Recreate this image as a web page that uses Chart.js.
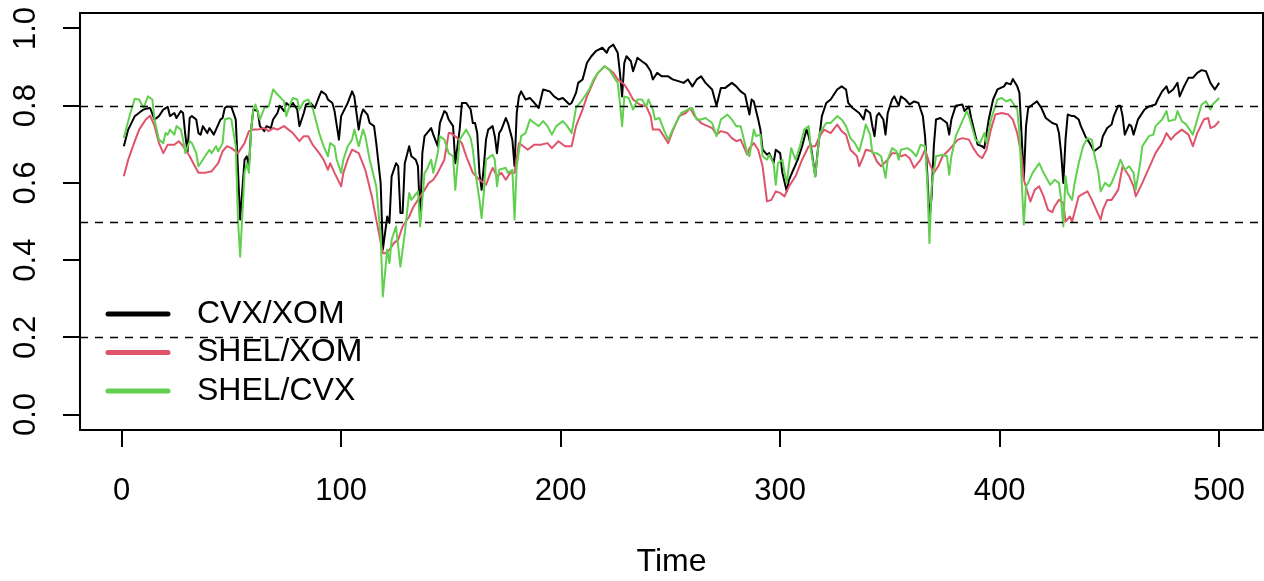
<!doctype html>
<html lang="en">
<head>
<meta charset="utf-8">
<title>Rolling correlations</title>
<script src="https://cdn.jsdelivr.net/npm/chart.js"></script>
<style>
  html, body { margin: 0; padding: 0; background: #fff; }
  canvas { display: block; }
</style>
</head>
<body>
<canvas id="corrChart" width="1264" height="581"></canvas>
<script>
// axis ticks and reference levels
var xTicks = [0, 100, 200, 300, 400, 500];
var yTicks = [0, 0.2, 0.4, 0.6, 0.8, 1.0];
var refLevels = [0.2, 0.5, 0.8];
var seriesNames = ["CVX/XOM", "SHEL/XOM", "SHEL/CVX"];
var seriesColors = ["#000000", "#DF536B", "#61D04F"];

// [time, correlation]
var cvxXom = [
  [1,.695],[3,.738],[6,.773],[7,.777],[9,.786],[10,.790],[11,.792],[13,.794],[15,.764],[17,.773],[19,.790],[21,.797],[22,.773],[24,.781],[25,.768],[27,.786],[28,.781],[29,.725],[30,.680],[31,.768],[32,.773],[34,.764],[35,.729],[36,.725],[37,.747],[39,.729],[40,.742],[42,.725],[43,.738],[45,.764],[46,.768],[47,.794],[48,.798],[50,.797],
  [52,.764],[53,.634],[54,.505],[56,.660],[57,.669],[58,.643],[59,.738],[60,.790],[62,.786],[63,.747],[65,.734],[66,.747],[68,.742],[69,.764],[71,.781],[72,.800],[74,.786],[75,.807],[77,.798],[78,.807],[80,.790],[81,.747],[83,.781],[84,.803],[86,.807],[88,.794],[90,.824],[91,.837],[93,.829],[94,.816],[96,.807],[97,.786],[99,.712],[100,.773],[103,.807],[105,.837],
  [106,.824],[108,.738],[109,.773],[110,.790],[112,.777],[113,.755],[115,.747],[116,.703],[118,.600],[119,.427],[120,.470],[121,.513],[122,.496],[123,.617],[125,.651],[126,.643],[127,.522],[128,.522],[129,.651],[131,.695],[132,.669],[134,.660],[135,.643],[136,.505],[137,.677],[138,.721],[141,.742],[142,.725],[144,.695],[145,.755],[147,.786],[148,.781],[149,.764],[151,.747],[152,.651],[154,.738],[155,.807],[157,.807],[159,.790],
  [160,.755],[161,.755],[162,.729],[163,.626],[164,.582],[165,.643],[166,.712],[167,.738],[169,.747],[170,.721],[171,.677],[172,.729],[173,.738],[175,.768],[176,.755],[178,.712],[179,.643],[180,.781],[181,.824],[182,.837],[184,.816],[186,.820],[188,.807],[190,.794],[192,.842],[195,.837],[197,.824],[199,.816],[201,.820],[204,.803],[205,.807],[207,.833],[208,.859],[210,.868],[212,.911],[214,.928],
  [216,.941],[219,.950],[221,.937],[222,.950],[224,.958],[226,.937],[227,.885],[228,.824],[229,.911],[230,.928],[232,.915],[233,.889],[235,.924],[237,.915],[239,.907],[241,.889],[242,.868],[244,.885],[246,.876],[249,.876],[251,.868],[254,.863],[256,.859],[258,.868],[260,.850],[262,.868],[264,.876],[266,.859],[269,.842],
  [271,.800],[273,.846],[275,.846],[278,.859],[280,.850],[282,.837],[284,.829],[286,.777],[287,.816],[288,.811],[290,.764],[291,.738],[292,.686],[294,.673],[295,.677],[297,.651],[298,.686],[300,.677],[301,.626],[303,.578],[304,.608],[306,.634],[308,.660],[310,.695],[312,.738],[313,.721],[314,.695],[316,.617],[317,.677],[319,.773],[321,.807],[323,.816],
  [326,.842],[328,.850],[330,.842],[331,.807],[333,.794],[336,.781],[338,.764],[339,.790],[341,.781],[342,.747],[343,.721],[344,.773],[345,.781],[347,.764],[348,.725],[349,.781],[351,.816],[352,.824],[354,.800],[355,.824],[357,.816],[359,.803],[361,.811],[363,.807],[365,.773],[366,.721],[367,.626],[368,.505],[369,.565],[370,.695],[371,.764],[373,.768],[376,.755],[377,.725],[378,.764],
  [380,.800],[383,.803],[384,.786],[386,.798],[387,.768],[389,.721],[390,.699],[392,.695],[393,.690],[395,.764],[397,.816],[399,.842],[402,.850],[403,.859],[405,.855],[406,.869],[408,.850],[409,.833],[410,.721],[411,.608],[412,.747],[413,.794],[415,.803],[417,.811],[419,.794],[421,.768],[424,.755],[426,.751],[427,.729],[428,.677],[429,.600],[430,.712],[431,.777],
  [433,.773],[434,.773],[436,.764],[437,.747],[439,.721],[441,.703],[443,.682],[446,.695],[447,.721],[449,.742],[451,.751],[452,.773],[454,.800],[455,.800],[456,.773],[457,.725],[459,.751],[460,.747],[461,.725],[463,.764],[464,.773],[466,.790],[468,.798],[471,.803],[472,.816],[474,.837],[476,.850],[477,.833],[479,.842],[481,.859],[482,.824],[484,.850],[486,.872],[488,.872],[490,.885],[492,.892],[494,.889],[496,.859],[498,.842],[500,.859]
];

var shelXom = [
  [1,.617],[3,.660],[6,.708],[8,.738],[11,.764],[13,.774],[15,.747],[17,.703],[19,.677],[21,.699],[24,.699],[26,.708],[28,.695],[31,.669],[33,.647],[35,.626],[38,.626],[41,.630],[44,.651],[46,.682],[48,.695],[50,.690],
  [53,.677],[56,.703],[58,.734],[60,.738],[62,.738],[65,.742],[67,.734],[69,.742],[71,.738],[74,.747],[76,.738],[78,.729],[81,.708],[83,.721],[85,.721],[87,.699],[90,.677],[92,.660],[94,.634],[95,.651],[97,.626],[100,.591],[101,.626],[103,.660],[105,.686],
  [108,.677],[111,.634],[114,.565],[116,.505],[119,.418],[120,.418],[122,.427],[124,.444],[126,.453],[128,.487],[131,.513],[133,.539],[135,.556],[138,.582],[140,.600],[142,.608],[144,.626],[147,.660],[149,.729],[150,.729],[153,.716],[155,.703],[157,.669],[160,.626],
  [163,.608],[166,.595],[168,.626],[169,.639],[171,.617],[173,.626],[175,.608],[177,.626],[179,.626],[181,.703],[183,.695],[185,.686],[188,.699],[191,.699],[194,.703],[196,.690],[199,.708],[202,.695],[205,.695],[207,.747],[210,.790],[212,.824],[215,.863],
  [217,.885],[220,.902],[222,.894],[224,.885],[226,.868],[229,.855],[231,.837],[233,.816],[236,.803],[239,.798],[241,.773],[242,.738],[245,.738],[247,.721],[249,.703],[251,.734],[254,.773],[257,.781],[259,.794],[261,.773],[264,.755],[267,.747],[269,.742],
  [271,.725],[273,.734],[276,.729],[278,.716],[280,.708],[282,.712],[285,.673],[286,.690],[288,.703],[290,.686],[292,.643],[294,.552],[296,.556],[298,.578],[300,.574],[302,.565],[304,.591],[307,.617],[310,.660],[313,.695],[316,.695],[318,.721],[320,.738],[323,.729],
  [326,.751],[328,.734],[330,.725],[332,.686],[335,.669],[336,.643],[338,.669],[339,.686],[342,.682],[344,.656],[346,.643],[349,.660],[351,.677],[353,.677],[355,.669],[357,.673],[359,.664],[361,.639],[364,.660],[366,.686],[368,.651],[370,.626],[372,.643],[374,.669],[377,.686],
  [381,.712],[383,.716],[386,.712],[388,.690],[390,.673],[392,.664],[394,.686],[396,.738],[398,.777],[401,.781],[404,.777],[406,.764],[408,.729],[410,.669],[411,.608],[414,.552],[416,.582],[418,.591],[420,.565],[422,.530],[424,.524],[425,.539],[427,.556],[429,.548],[430,.500],[432,.513],[433,.500],
  [434,.522],[436,.565],[440,.578],[442,.556],[444,.530],[446,.505],[447,.530],[449,.556],[451,.556],[454,.582],[456,.643],[459,.617],[461,.591],[462,.565],[465,.600],[467,.626],[469,.651],[471,.677],[474,.703],[476,.729],[478,.712],[480,.725],[483,.738],[486,.725],[488,.695],[490,.729],[493,.764],[495,.768],[496,.742],[498,.747],[500,.760]
];

var shelCvx = [
  [1,.716],[2,.738],[4,.781],[6,.818],[8,.816],[10,.794],[12,.824],[14,.816],[15,.764],[17,.712],[19,.703],[20,.729],[21,.725],[22,.738],[24,.725],[25,.747],[27,.738],[28,.712],[29,.677],[31,.708],[32,.703],[34,.677],[35,.643],[37,.660],[38,.669],[40,.686],[41,.677],[43,.695],[44,.682],[46,.703],[47,.764],[49,.768],[50,.764],[52,.695],[53,.505],[54,.409],
  [56,.626],[57,.651],[58,.626],[59,.738],[60,.790],[61,.803],[63,.764],[65,.794],[67,.798],[69,.842],[71,.829],[74,.811],[75,.773],[77,.807],[78,.820],[80,.816],[81,.790],[83,.811],[85,.816],[87,.794],[90,.729],[92,.695],[94,.669],[95,.703],[97,.695],[98,.660],[100,.626],[101,.660],[103,.695],[105,.712],
  [106,.738],[108,.695],[110,.738],[111,.721],[113,.660],[116,.591],[118,.461],[119,.306],[121,.427],[122,.392],[123,.453],[125,.487],[126,.435],[127,.383],[129,.470],[131,.574],[132,.556],[135,.578],[136,.487],[138,.626],[139,.634],[141,.660],[142,.626],[144,.677],[145,.721],[147,.712],[149,.677],[151,.669],[152,.582],[154,.712],[157,.738],[159,.716],
  [160,.686],[161,.634],[163,.556],[164,.509],[165,.574],[166,.660],[169,.673],[170,.660],[171,.591],[172,.634],[175,.639],[176,.626],[178,.634],[179,.505],[180,.643],[182,.721],[184,.729],[186,.764],[188,.755],[190,.747],[192,.760],[194,.747],[196,.725],[198,.747],[201,.760],[203,.747],[205,.729],[207,.794],[210,.816],[213,.842],[215,.868],
  [217,.885],[220,.902],[222,.894],[224,.876],[226,.859],[227,.807],[228,.747],[229,.824],[231,.820],[233,.790],[235,.816],[237,.816],[239,.798],[240,.816],[242,.790],[243,.764],[245,.768],[247,.738],[249,.712],[251,.738],[253,.760],[255,.781],[258,.790],[260,.794],[262,.764],[264,.764],[266,.768],[269,.755],
  [271,.721],[273,.764],[276,.777],[278,.764],[280,.747],[282,.747],[285,.677],[286,.669],[288,.738],[289,.721],[291,.725],[292,.669],[294,.660],[295,.673],[297,.651],[298,.595],[299,.651],[301,.660],[302,.626],[303,.600],[305,.690],[307,.660],[309,.695],[311,.738],[313,.747],[314,.686],[316,.617],[318,.729],[321,.755],[323,.755],
  [326,.773],[328,.764],[330,.747],[332,.716],[334,.703],[336,.682],[338,.725],[339,.751],[341,.725],[342,.677],[344,.677],[346,.669],[348,.613],[349,.660],[351,.690],[353,.682],[354,.660],[355,.686],[358,.690],[360,.682],[362,.669],[364,.699],[366,.695],[367,.608],[368,.444],[369,.591],[371,.669],[374,.673],[376,.669],[377,.621],[378,.669],
  [380,.721],[383,.760],[385,.786],[386,.773],[389,.712],[391,.703],[393,.729],[394,.703],[396,.764],[399,.816],[401,.820],[403,.811],[405,.816],[408,.790],[409,.729],[410,.608],[411,.492],[412,.591],[413,.600],[415,.626],[418,.651],[420,.626],[423,.595],[425,.608],[427,.600],[428,.556],[429,.487],[430,.617],[431,.574],[433,.556],
  [434,.595],[436,.651],[438,.695],[440,.716],[442,.712],[443,.677],[445,.626],[446,.578],[448,.600],[450,.591],[451,.600],[454,.643],[455,.660],[457,.634],[459,.643],[461,.626],[462,.582],[464,.651],[465,.695],[468,.721],[470,.725],[471,.747],[474,.764],[476,.786],[477,.760],[480,.764],[481,.786],[483,.760],[485,.751],[488,.725],[490,.764],[492,.803],[494,.811],[496,.790],[497,.803],[500,.820]
];

var FONT = '"Liberation Sans", Arial, Helvetica, sans-serif';

function toPoints(arr) {
  return arr.map(function(p) { return { x: p[0], y: p[1] }; });
}

// box, dashed reference lines, rotated y labels and the legend, R style
var rFrame = {
  id: 'rFrame',
  afterDatasetsDraw: function(chart) {
    var ctx = chart.ctx, a = chart.chartArea, ys = chart.scales.y;
    ctx.save();
    ctx.strokeStyle = '#000';
    ctx.lineWidth = 1.6;
    ctx.setLineDash([8, 7]);
    refLevels.forEach(function(v) {
      var py = Math.round(ys.getPixelForValue(v)) + 0.5;
      ctx.beginPath();
      ctx.moveTo(a.left, py);
      ctx.lineTo(a.right, py);
      ctx.stroke();
    });
    ctx.setLineDash([]);
    ctx.lineWidth = 2;
    ctx.strokeRect(a.left, a.top, a.right - a.left, a.bottom - a.top);

    ctx.fillStyle = '#000';
    ctx.font = '31px ' + FONT;
    ctx.textAlign = 'center';
    ctx.textBaseline = 'alphabetic';
    ys.ticks.forEach(function(t) {
      ctx.save();
      ctx.translate(35, ys.getPixelForValue(t.value));
      ctx.rotate(-Math.PI / 2);
      ctx.fillText(t.value.toFixed(1), 0, 0);
      ctx.restore();
    });

    // legend, no box
    ctx.font = '32px ' + FONT;
    ctx.textAlign = 'left';
    ctx.textBaseline = 'middle';
    ctx.lineCap = 'round';
    ctx.lineWidth = 5;
    seriesNames.forEach(function(name, i) {
      var ly = 314 + i * 38.5;
      ctx.strokeStyle = seriesColors[i];
      ctx.beginPath();
      ctx.moveTo(108, ly);
      ctx.lineTo(168, ly);
      ctx.stroke();
      ctx.fillText(name, 197, ly);
    });
    ctx.restore();
  }
};

var lineStyle = { borderWidth: 2, pointRadius: 0, fill: false, tension: 0, borderJoinStyle: 'round' };

var ctx = document.getElementById('corrChart').getContext('2d');
new Chart(ctx, {
  type: 'line',
  data: {
    datasets: [
      Object.assign({ label: seriesNames[0], data: toPoints(cvxXom), borderColor: seriesColors[0], order: 3 }, lineStyle),
      Object.assign({ label: seriesNames[1], data: toPoints(shelXom), borderColor: seriesColors[1], order: 2 }, lineStyle),
      Object.assign({ label: seriesNames[2], data: toPoints(shelCvx), borderColor: seriesColors[2], order: 1 }, lineStyle)
    ]
  },
  options: {
    responsive: false,
    animation: false,
    devicePixelRatio: 1,
    layout: { padding: { top: 13, right: 1, left: 0, bottom: 0 } },
    plugins: { legend: { display: false }, tooltip: { enabled: false } },
    scales: {
      x: {
        type: 'linear',
        min: -18.96,
        max: 519.96,
        afterBuildTicks: function(s) { s.ticks = xTicks.map(function(v) { return { value: v }; }); },
        afterFit: function(s) { s.height = 151; s.paddingLeft = 0; s.paddingRight = 0; },
        grid: { drawOnChartArea: false, drawTicks: true, tickLength: 17, color: '#000', lineWidth: 2 },
        border: { display: false },
        ticks: {
          color: '#000',
          font: { family: FONT, size: 31 },
          padding: 26,
          maxRotation: 0,
          autoSkip: false,
          callback: function(v) { return String(v); }
        },
        title: { display: true, text: 'Time', color: '#000', font: { family: FONT, size: 32 }, padding: 0 }
      },
      y: {
        type: 'linear',
        min: -0.04,
        max: 1.04,
        afterBuildTicks: function(s) { s.ticks = yTicks.map(function(v) { return { value: v }; }); },
        afterFit: function(s) { s.width = 80; s.paddingTop = 0; s.paddingBottom = 0; },
        grid: { drawOnChartArea: false, drawTicks: true, tickLength: 17, color: '#000', lineWidth: 2 },
        border: { display: false },
        ticks: { display: false }
      }
    }
  },
  plugins: [rFrame]
});
</script>
</body>
</html>
